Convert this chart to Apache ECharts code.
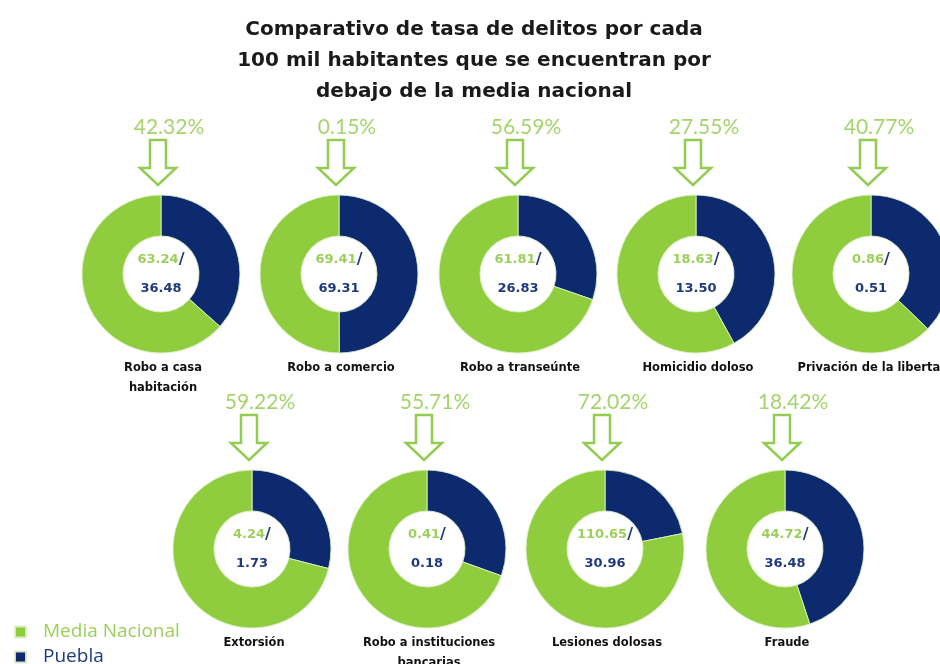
<!DOCTYPE html>
<html>
<head>
<meta charset="utf-8">
<script src="https://cdn.jsdelivr.net/npm/echarts@6/dist/echarts.min.js"></script>
<style>html,body{margin:0;padding:0;background:#fff}#c{width:940px;height:664px}</style>
</head>
<body>
<div id="c"></div>
<script>
const categories = ['Robo a casa\nhabitación','Robo a comercio','Robo a transeúnte','Homicidio doloso','Privación de la libertad','Extorsión','Robo a instituciones\nbancarias','Lesiones dolosas','Fraude'];
const mediaNacional = [63.24, 69.41, 61.81, 18.63, 0.86, 4.24, 0.41, 110.65, 44.72];
const puebla = [36.48, 69.31, 26.83, 13.50, 0.51, 1.73, 0.18, 30.96, 36.48];
const percentLabels = ['42.32%','0.15%','56.59%','27.55%','40.77%','59.22%','55.71%','72.02%','18.42%'];
const legendNames = ['Media Nacional', 'Puebla'];

const centers = [[161,274],[339,274],[518,274],[696,274],[871,274],[252,549],[427,549],[605,549],[785,549]];
const GREEN = '#8fcd3e', BLUE = '#0e2a6e', LGREEN = '#9ccf5c', DBLUE = '#1f3a7c';

const series = [];
const graphic = [];
categories.forEach((cat, i) => {
  const [cx, cy] = centers[i];
  series.push({
    type: 'pie', silent: true, animation: false,
    center: [cx, cy], radius: [38, 79],
    startAngle: 90, clockwise: true,
    label: {show: false}, labelLine: {show: false},
    emphasis: {disabled: true},
    itemStyle: {borderColor: 'rgba(220,240,200,0.9)', borderWidth: 1},
    data: [
      {name: legendNames[1], value: puebla[i], itemStyle: {color: BLUE},
       label: {show: true, position: 'center',
         formatter: '{g|' + mediaNacional[i].toFixed(2) + '}{s|/}\n{b|' + puebla[i].toFixed(2) + '}',
         rich: {
           g: {color: LGREEN, fontFamily: 'DejaVu Sans', fontWeight: 'bold', fontSize: 13, lineHeight: 29},
           s: {color: DBLUE, fontFamily: 'DejaVu Sans', fontWeight: 'bold', fontSize: 16, lineHeight: 29},
           b: {color: DBLUE, fontFamily: 'DejaVu Sans', fontWeight: 'bold', fontSize: 13, lineHeight: 29}
         }}},
      {name: legendNames[0], value: mediaNacional[i], itemStyle: {color: GREEN}}
    ]
  });
  // percent label
  graphic.push({type: 'text', x: cx + 8, y: cy - 147, silent: true,
    style: {text: percentLabels[i], fill: '#a4d46c', font: '21px Lato', textAlign: 'center', textVerticalAlign: 'middle'}});
  // hollow arrow
  const ax = cx - 3, top = cy - 134, neck = cy - 106, tip = cy - 89;
  graphic.push({type: 'polygon', silent: true,
    shape: {points: [[ax-8,top],[ax+8,top],[ax+8,neck],[ax+18,neck],[ax,tip],[ax-18,neck],[ax-8,neck]]},
    style: {fill: '#ffffff', stroke: '#92cc52', lineWidth: 2.5}});
  // category label
  graphic.push({type: 'text', silent: true, x: cx + 2, y: cy + 84,
    style: {text: cat, fill: '#111', font: 'bold 11.5px "DejaVu Sans"', textAlign: 'center', textVerticalAlign: 'top', lineHeight: 20}});
});

const legendBase = {orient: 'horizontal', left: 14, padding: 0, itemWidth: 11, itemHeight: 11,
  icon: 'rect', selectedMode: false};

const chart = echarts.init(document.getElementById('c'));
chart.setOption({
  backgroundColor: '#ffffff',
  animation: false,
  title: {
    text: 'Comparativo de tasa de delitos por cada\n100 mil habitantes que se encuentran por\ndebajo de la media nacional',
    left: 469, top: 9, textAlign: 'center',
    textStyle: {fontFamily: 'DejaVu Sans', fontWeight: 'bold', fontSize: 20, color: '#1a1a1a', lineHeight: 31}
  },
  legend: [
    Object.assign({}, legendBase, {top: 622,
      data: [{name: legendNames[0], itemStyle: {color: GREEN}}],
      textStyle: {color: '#9ccf5c', fontFamily: 'Open Sans', fontSize: 19, lineHeight: 20, padding: [0,0,0,12]}}),
    Object.assign({}, legendBase, {top: 647,
      data: [{name: legendNames[1], itemStyle: {color: BLUE}}],
      textStyle: {color: DBLUE, fontFamily: 'Open Sans', fontSize: 19, lineHeight: 20, padding: [0,0,0,12]}})
  ],
  graphic: graphic,
  series: series
});
</script>
</body>
</html>
